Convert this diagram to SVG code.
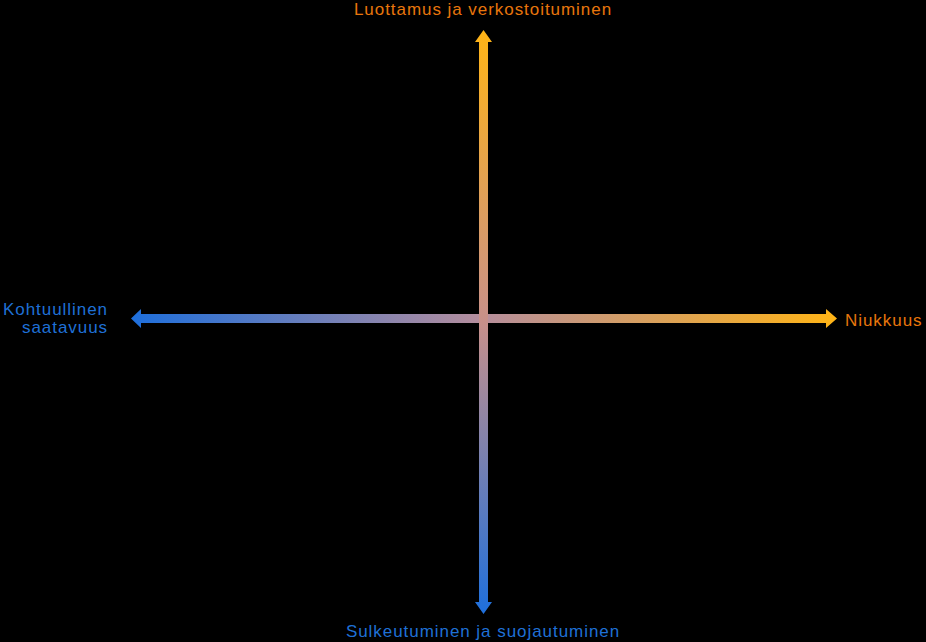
<svg xmlns="http://www.w3.org/2000/svg" width="926" height="642" viewBox="0 0 926 642">
<defs>
<linearGradient id="gv" gradientUnits="userSpaceOnUse" x1="0" y1="30" x2="0" y2="614">
<stop offset="0" stop-color="#FFB416"/>
<stop offset="0.5" stop-color="#C8908A"/>
<stop offset="1" stop-color="#1E6FDC"/>
</linearGradient>
<linearGradient id="gh" gradientUnits="userSpaceOnUse" x1="131" y1="0" x2="837" y2="0">
<stop offset="0" stop-color="#1E6FDC"/>
<stop offset="0.5" stop-color="#B68E9C"/>
<stop offset="1" stop-color="#FFB416"/>
</linearGradient>
<style>
.lbl{font-family:"Liberation Sans",Arial,sans-serif;font-size:17px;letter-spacing:0.95px}
.or{fill:#E8760C}
.bl{fill:#1F70D6}
</style>
</defs>
<rect width="926" height="642" fill="#000"/>
<g id="connectors">
<path id="h-axis" d="M131 318.5 L141 309 L141 314 L826 314 L826 309 L837 318.5 L826 328 L826 323 L141 323 L141 328 Z" fill="url(#gh)"/>
<path id="v-axis" d="M483.5 30 L492 42 L488 42 L488 602 L492 602 L483.5 614 L475 602 L479 602 L479 42 L475 42 Z" fill="url(#gv)"/>
</g>
<g id="top"><text class="lbl or" x="483" y="15" text-anchor="middle">Luottamus ja verkostoituminen</text></g>
<g id="left"><text class="lbl bl" x="108" y="315" text-anchor="end">Kohtuullinen</text><text class="lbl bl" x="108" y="333" text-anchor="end">saatavuus</text></g>
<g id="right"><text class="lbl or" x="845" y="326">Niukkuus</text></g>
<g id="bottom"><text class="lbl bl" x="483" y="637" text-anchor="middle">Sulkeutuminen ja suojautuminen</text></g>
</svg>
